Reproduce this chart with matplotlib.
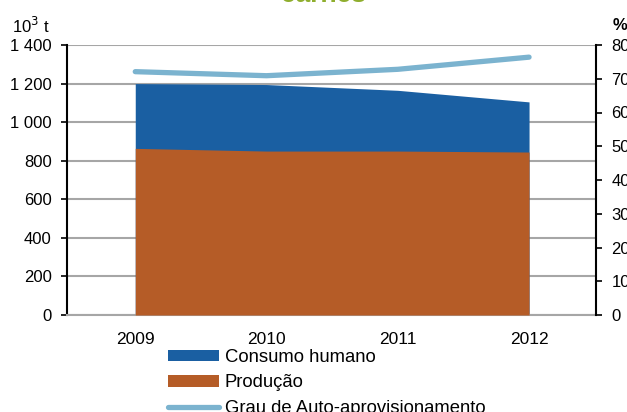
import matplotlib
matplotlib.use("Agg")
import matplotlib.pyplot as plt
from matplotlib.patches import Patch
from matplotlib.lines import Line2D
from matplotlib.ticker import FuncFormatter

plt.rcParams['font.family'] = ['Liberation Sans', 'DejaVu Sans']

years = ['2009', '2010', '2011', '2012']
consumo_humano = [1200, 1195, 1165, 1105]
producao = [864, 850, 850, 845]
grau_auto = [72.1, 70.9, 72.8, 76.4]

left_ticks = [0, 200, 400, 600, 800, 1000, 1200, 1400]
right_ticks = [0, 10, 20, 30, 40, 50, 60, 70, 80]

c_blue = '#1a5fa2'
c_orange = '#b55c27'
c_line = '#7bb3cf'
c_grid = '#a6a6a6'

fig = plt.figure(figsize=(6.27, 4.12), dpi=100)
ax = fig.add_axes([67/627, 1-315/412, (596-67)/627, (315-45)/412])
x = list(range(len(years)))

ax.fill_between(x, 0, consumo_humano, color=c_blue, linewidth=0, zorder=2)
ax.fill_between(x, 0, producao, color=c_orange, linewidth=0, zorder=3)

ax.set_xlim(-0.52, 3.51)
ax.set_ylim(0, 1400)
ax.set_yticks(left_ticks)
ax.yaxis.set_major_formatter(FuncFormatter(lambda v, p: f"{int(v):,}".replace(",", " ")))
ax.set_xticks(x)
ax.set_xticklabels(years)
ax.tick_params(axis='x', length=0, pad=12, labelsize=12.5)
ax.tick_params(axis='y', length=4, width=1.2, pad=7, labelsize=12, direction='out')
ax.grid(axis='y', color=c_grid, linewidth=1.5, zorder=0)
ax.set_axisbelow(True)
for s in ['top', 'right']:
    ax.spines[s].set_visible(False)
ax.spines['bottom'].set_color(c_grid)
ax.spines['bottom'].set_linewidth(1.5)
ax.spines['left'].set_linewidth(1.5)

ax2 = ax.twinx()
ax2.plot(x, grau_auto, color=c_line, linewidth=3.8, solid_capstyle='round', zorder=5)
ax2.set_ylim(0, 80)
ax2.set_yticks(right_ticks)
ax2.tick_params(axis='y', length=4, width=1.2, pad=7, labelsize=12, direction='out')
for s in ['top', 'left', 'bottom']:
    ax2.spines[s].set_visible(False)
ax2.spines['right'].set_linewidth(1.5)

fig.text(50/627, 1-26/412, '10$^3$ t', ha='right', va='center', fontsize=12)
fig.text(613/627, 1-26/412, '%', ha='left', va='center', fontsize=12, fontweight='bold')
fig.text(323/627, 1-1.5/412, 'carnes', ha='center', va='baseline', fontsize=19,
         fontweight='bold', color='#8fae2e')

handles = [Patch(facecolor=c_blue, edgecolor='none'),
           Patch(facecolor=c_orange, edgecolor='none'),
           Line2D([0], [0], color=c_line, linewidth=3.8, solid_capstyle='round')]
labels = ['Consumo humano', 'Produção', 'Grau de Auto-aprovisionamento']
fig.legend(handles, labels, loc='upper left', bbox_to_anchor=(168/627, 1-349/412),
           frameon=False, fontsize=13.3, handlelength=2.76, handleheight=0.6,
           handletextpad=0.3, labelspacing=0.46, borderpad=0, borderaxespad=0)

fig.savefig('out.png', dpi=100)
